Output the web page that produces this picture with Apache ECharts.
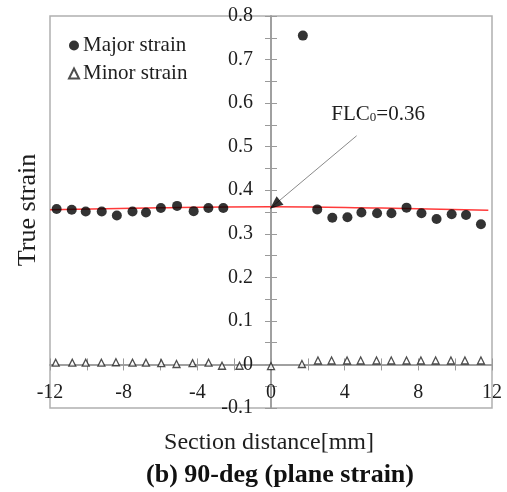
<!DOCTYPE html>
<html>
<head>
<meta charset="utf-8">
<script src="https://cdn.jsdelivr.net/npm/echarts@6/dist/echarts.min.js"></script>
<style>
  html, body { margin: 0; padding: 0; background: #fff; }
  #chart { width: 507px; height: 492px; }
</style>
</head>
<body>
<div id="chart"></div>
<script>
// Section positions [mm] and true strain values
const majorX = [-11.64, -10.82, -10.06, -9.19, -8.37, -7.52, -6.79, -5.98, -5.10, -4.20, -3.40, -2.59,
                1.73,
                2.51, 3.33, 4.15, 4.91, 5.76, 6.54, 7.36, 8.17, 8.99, 9.81, 10.59, 11.40];
const majorY = [0.357, 0.355, 0.351, 0.351, 0.342, 0.351, 0.349, 0.359, 0.364, 0.352, 0.359, 0.359,
                0.755,
                0.356, 0.337, 0.338, 0.349, 0.347, 0.347, 0.360, 0.347, 0.334, 0.345, 0.343, 0.322];

const minorX = [-11.69, -10.79, -10.06, -9.21, -8.42, -7.52, -6.79, -5.96, -5.13, -4.26, -3.39, -2.66, -1.71,
                0.0,
                1.68, 2.55, 3.29, 4.13, 4.87, 5.73, 6.53, 7.36, 8.14, 8.94, 9.77, 10.53, 11.40];
const minorY = [0.004, 0.004, 0.004, 0.004, 0.005, 0.004, 0.004, 0.003, 0.001, 0.003, 0.004, -0.003, -0.003,
                -0.004,
                0.001, 0.009, 0.009, 0.009, 0.009, 0.009, 0.009, 0.009, 0.009, 0.009, 0.009, 0.009, 0.009];

// Trend curve through the major strain
const fitX = [-12, -6, 0, 6, 11.8];
const fitY = [0.355, 0.360, 0.362, 0.359, 0.354];

// Limit strain annotation
const FLC0 = 0.36;
const arrowFrom = [4.65, 0.525];
const labelAt = [3.25, 0.575];

// Axis ranges and ticks
const xMin = -12, xMax = 12, xStep = 4;
const yMin = -0.1, yMax = 0.8, yStep = 0.1;

const zip = (xs, ys) => xs.map((x, i) => [x, ys[i]]);

const FONT = '"Liberation Serif", "Times New Roman", serif';
const TEXT = '#1e1e1e';
const AXIS = '#9a9a9a';

// Plot box in pixels
const W = 507, H = 492;
const G = { left: 50, right: 15, top: 16, bottom: 84 };
const plotW = W - G.left - G.right, plotH = H - G.top - G.bottom;
// Axes cross at the origin: shift them in from the grid edges
const yAxisShift = -((0 - xMin) / (xMax - xMin)) * plotW;
const xAxisShift = -((0 - yMin) / (yMax - yMin)) * plotH;

const chart = echarts.init(document.getElementById('chart'));

const xBase = {
  type: 'value', min: xMin, max: xMax, interval: xStep, position: 'bottom', offset: xAxisShift,
  axisLine: { onZero: false, lineStyle: { color: AXIS, width: 1.5 } },
  splitLine: { show: false },
  minorTick: { show: true, splitNumber: 2, length: 6, lineStyle: { color: AXIS } },
  axisTick: { length: 6, lineStyle: { color: AXIS } }
};
const yBase = {
  type: 'value', min: yMin, max: yMax, interval: yStep, position: 'left', offset: yAxisShift,
  axisLine: { onZero: false, lineStyle: { color: AXIS, width: 1.5 } },
  splitLine: { show: false },
  minorTick: { show: true, splitNumber: 2, length: 6, lineStyle: { color: AXIS } },
  axisTick: { length: 6, lineStyle: { color: AXIS } }
};

chart.setOption({
  animation: false,
  backgroundColor: '#fff',
  grid: {
    left: G.left, right: G.right, top: G.top, bottom: G.bottom,
    show: true, borderColor: '#b0b0b0', borderWidth: 1.5, backgroundColor: 'transparent'
  },
  legend: {
    orient: 'vertical', left: 63, top: 30,
    itemWidth: 10, itemHeight: 10, itemGap: 7,
    textStyle: { fontFamily: FONT, fontSize: 21, color: TEXT, padding: [0, 0, 0, -1] },
    data: ['Major strain', 'Minor strain']
  },
  xAxis: [
    Object.assign({}, xBase, {
      axisTick: Object.assign({}, xBase.axisTick, { inside: false }),
      axisLabel: { margin: 18, fontFamily: FONT, fontSize: 20, color: TEXT }
    }),
    Object.assign({}, xBase, {
      axisTick: Object.assign({}, xBase.axisTick, { inside: true }),
      axisLabel: { show: false }
    })
  ],
  yAxis: [
    Object.assign({}, yBase, {
      axisTick: Object.assign({}, yBase.axisTick, { inside: false }),
      axisLabel: { margin: 18, fontFamily: FONT, fontSize: 20, color: TEXT }
    }),
    Object.assign({}, yBase, {
      axisTick: Object.assign({}, yBase.axisTick, { inside: true }),
      axisLabel: { show: false }
    })
  ],
  graphic: [
    {
      type: 'text', x: 15, y: 210, rotation: Math.PI / 2,
      style: { text: 'True strain', font: '26px ' + FONT, fill: TEXT,
               align: 'center', verticalAlign: 'top' }
    },
    {
      type: 'text', x: 269, y: 443,
      style: { text: 'Section distance[mm]', font: '24px ' + FONT, fill: TEXT,
               align: 'center', verticalAlign: 'middle' }
    },
    {
      type: 'text', x: 280, y: 475,
      style: { text: '(b) 90-deg (plane strain)', font: 'bold 26px ' + FONT, fill: '#111',
               align: 'center', verticalAlign: 'middle' }
    }
  ],
  series: [
    {
      name: 'Trend', type: 'line', smooth: true, symbol: 'none', z: 2,
      lineStyle: { color: '#ff3a3a', width: 1.5 },
      data: zip(fitX, fitY),
      markLine: {
        silent: true, symbol: ['none', 'none'],
        lineStyle: { color: '#8a8a8a', width: 1, type: 'solid' },
        label: { show: false },
        data: [[{ coord: arrowFrom }, { coord: [0, FLC0] }]]
      }
    },
    {
      name: 'Major strain', type: 'scatter', symbol: 'circle', symbolSize: 10, z: 4,
      itemStyle: { color: '#000' },
      data: zip(majorX, majorY)
    },
    {
      name: 'Minor strain', type: 'scatter', symbol: 'triangle', symbolSize: [7, 7], z: 4,
      itemStyle: { color: '#fff', borderColor: '#222', borderWidth: 1.3 },
      data: zip(minorX, minorY)
    },
    {
      name: 'Arrow', type: 'scatter', symbol: 'triangle', symbolSize: [11, 13],
      symbolRotate: 129, symbolOffset: [4, -3], z: 5,
      itemStyle: { color: '#000' },
      data: [[0, FLC0]]
    },
    {
      name: 'FLC label', type: 'scatter', symbol: 'circle', symbolSize: 1, z: 5,
      itemStyle: { color: 'rgba(0,0,0,0)' },
      data: [labelAt],
      label: {
        show: true, position: 'right', distance: 0, color: TEXT, opacity: 1,
        textBorderWidth: 0,
        formatter: '{a|FLC}{s|0}{a|=' + FLC0.toFixed(2) + '}',
        rich: {
          a: { fontFamily: FONT, fontSize: 21, color: TEXT },
          s: { fontFamily: FONT, fontSize: 13, color: TEXT, verticalAlign: 'bottom', padding: [7, 0, 0, 0] }
        }
      }
    }
  ]
});
</script>
</body>
</html>
